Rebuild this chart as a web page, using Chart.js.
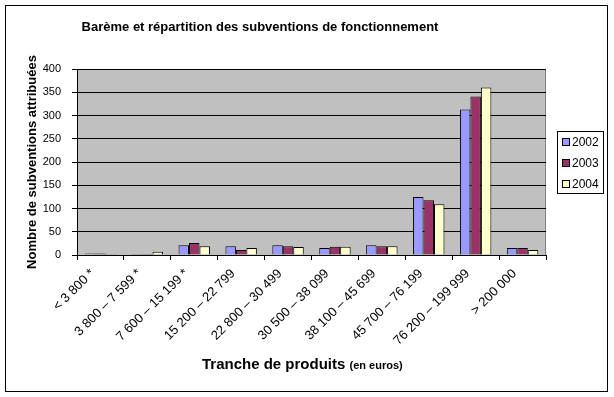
<!DOCTYPE html>
<html>
<head>
<meta charset="utf-8">
<script src="https://cdn.jsdelivr.net/npm/chart.js@4.4.0/dist/chart.umd.min.js"></script>
<style>
  body { margin: 0; background: #fff; }
</style>
</head>
<body>
<canvas id="my_chart" width="614" height="397"></canvas>
<script>
var categories = [
    "< 3 800 *",
    "3 800 – 7 599 *",
    "7 600 – 15 199 *",
    "15 200 – 22 799",
    "22 800 – 30 499",
    "30 500 – 38 099",
    "38 100 – 45 699",
    "45 700 – 76 199",
    "76 200 – 199 999",
    "> 200 000"
];
var years = ["2002", "2003", "2004"];
var values2002 = [3, 2, 21, 19, 21, 15, 21, 125, 313, 15];
var values2003 = [3, 2, 26, 11, 19, 18, 19, 118, 341, 15];
var values2004 = [2, 7, 19, 15, 17, 18, 19, 109, 360, 11];
var yTicks = [0, 50, 100, 150, 200, 250, 300, 350, 400];

var FONT = "'Liberation Sans', Arial, sans-serif";
var colors = ["#9999ff", "#993366", "#ffffcc"];

// frame, plot background, title, x title and legend
var decor = {
    id: 'decor',
    beforeDraw: function (chart) {
        var ctx = chart.ctx, a = chart.chartArea;
        ctx.save();
        ctx.fillStyle = "#fff";
        ctx.fillRect(0, 0, chart.width, chart.height);
        ctx.strokeStyle = "#000";
        ctx.lineWidth = 1;
        ctx.strokeRect(5.5, 5.5, 602, 386);
        ctx.fillStyle = "#c0c0c0";
        ctx.fillRect(a.left, a.top, a.right - a.left, a.bottom - a.top);
        ctx.strokeStyle = "#808080";
        ctx.strokeRect(a.left + 0.5, a.top + 0.5, a.right - a.left - 1, a.bottom - a.top);
        ctx.restore();
    },
    afterDraw: function (chart) {
        var ctx = chart.ctx;
        ctx.save();
        ctx.fillStyle = "#000";

        ctx.font = "bold 13px " + FONT;
        ctx.textAlign = "center";
        ctx.textBaseline = "middle";
        ctx.fillText("Barème et répartition des subventions de fonctionnement", 260, 27);

        ctx.textAlign = "left";
        ctx.textBaseline = "alphabetic";
        ctx.font = "bold 15px " + FONT;
        var t1 = "Tranche de produits ";
        ctx.fillText(t1, 202, 369);
        var w = ctx.measureText(t1).width;
        ctx.font = "bold 11px " + FONT;
        ctx.fillText("(en euros)", 202 + w, 369);

        // legend
        ctx.strokeStyle = "#000";
        ctx.lineWidth = 1;
        ctx.fillStyle = "#fff";
        ctx.fillRect(557.5, 131.5, 46, 62);
        ctx.strokeRect(557.5, 131.5, 46, 62);
        ctx.font = "12px " + FONT;
        ctx.textBaseline = "middle";
        var rows = [142, 163, 184];
        chart.data.datasets.forEach(function (ds, i) {
            ctx.fillStyle = ds.backgroundColor;
            ctx.fillRect(562.5, rows[i] - 3.5, 7, 7);
            ctx.strokeRect(562.5, rows[i] - 3.5, 7, 7);
            ctx.fillStyle = "#000";
            ctx.fillText(ds.label, 572, rows[i] + 1);
        });
        ctx.restore();
    }
};

var ctx = document.getElementById("my_chart").getContext("2d");

new Chart(ctx, {
    type: 'bar',
    data: {
        labels: categories,
        datasets: [
            { label: years[0], data: values2002, backgroundColor: colors[0] },
            { label: years[1], data: values2003, backgroundColor: colors[1] },
            { label: years[2], data: values2004, backgroundColor: colors[2] }
        ]
    },
    options: {
        responsive: false,
        animation: false,
        devicePixelRatio: 1,
        layout: {
            padding: { left: 0, right: 68, top: 69, bottom: 0 }
        },
        datasets: {
            bar: {
                borderColor: "#000",
                borderWidth: 1,
                borderSkipped: 'bottom',
                barPercentage: 1,
                categoryPercentage: 0.67
            }
        },
        plugins: {
            legend: { display: false },
            title: { display: false },
            tooltip: { enabled: false }
        },
        scales: {
            x: {
                afterFit: function (scale) { scale.height = 142; },
                grid: {
                    drawOnChartArea: false,
                    color: "#000",
                    tickLength: 5
                },
                border: { color: "#000" },
                ticks: {
                    color: "#000",
                    font: { family: FONT, size: 13 },
                    minRotation: 45,
                    maxRotation: 45,
                    autoSkip: false,
                    padding: 6,
                    labelOffset: -8
                }
            },
            y: {
                min: 0,
                max: 400,
                afterFit: function (scale) { scale.width = 77; },
                afterBuildTicks: function (scale) {
                    scale.ticks = yTicks.map(function (v) { return { value: v }; });
                },
                grid: {
                    color: "#000",
                    tickLength: 5
                },
                border: { color: "#000" },
                ticks: {
                    color: "#000",
                    font: { family: FONT, size: 11 },
                    padding: 11
                },
                title: {
                    display: true,
                    text: "Nombre de subventions attribuées",
                    color: "#000",
                    font: { family: FONT, size: 13, weight: 'bold' },
                    padding: { top: 25, bottom: 0 }
                }
            }
        }
    },
    plugins: [decor]
});
</script>
</body>
</html>
